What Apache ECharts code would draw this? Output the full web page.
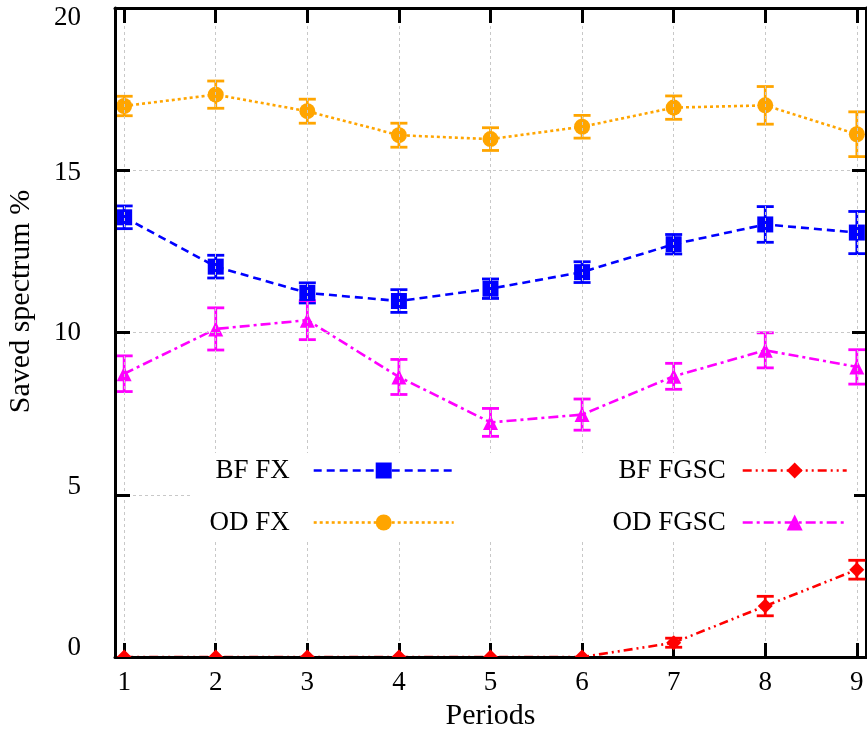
<!DOCTYPE html>
<html>
<head>
<meta charset="utf-8">
<script src="https://cdn.jsdelivr.net/npm/echarts@6/dist/echarts.min.js"></script>
<style>
  html, body { margin: 0; padding: 0; background: #fff; }
  #chart { width: 867px; height: 731px; }
</style>
</head>
<body>
<div id="chart"></div>
<script>
// Periods on the x axis
const periods = [1, 2, 3, 4, 5, 6, 7, 8, 9];
const yTicks = [0, 5, 10, 15, 20];

// Saved spectrum (%) per period, with error bar half-widths
const bfFx      = [13.55, 12.03, 11.22, 10.97, 11.35, 11.86, 12.72, 13.33, 13.08];
const bfFxErr   = [0.35, 0.35, 0.31, 0.35, 0.30, 0.32, 0.30, 0.55, 0.65];
const odFx      = [16.98, 17.33, 16.82, 16.08, 15.96, 16.34, 16.93, 17.00, 16.11];
const odFxErr   = [0.30, 0.42, 0.37, 0.37, 0.35, 0.35, 0.36, 0.58, 0.69];
const bfFgsc    = [0, 0, 0, 0, 0, 0, 0.44, 1.57, 2.69];
const bfFgscErr = [0, 0, 0, 0, 0, 0, 0.14, 0.30, 0.29];
const odFgsc    = [8.73, 10.11, 10.38, 8.63, 7.23, 7.47, 8.65, 9.45, 8.94];
const odFgscErr = [0.55, 0.65, 0.60, 0.54, 0.43, 0.48, 0.40, 0.54, 0.53];

const FONT = 'Liberation Serif';
const BLUE = '#0000ff', ORANGE = '#ffa500', RED = '#ff0000', MAGENTA = '#ff00ff';
const LW = 2.6;

function points(vals) { return periods.map((p, i) => [p, vals[i]]); }
function withErr(vals, errs) { return periods.map((p, i) => [p, vals[i], errs[i]]); }

// vertical error bar with caps, built from value and half-width
function errorBarShapes(api, color) {
  const x = api.value(0), v = api.value(1), e = api.value(2);
  if (!e) return [];
  const top = api.coord([x, v + e]);
  const bot = api.coord([x, v - e]);
  const cap = 8.5;
  const style = { stroke: color, lineWidth: 2.8 };
  return [
    { type: 'line', shape: { x1: top[0], y1: top[1], x2: bot[0], y2: bot[1] }, style },
    { type: 'line', shape: { x1: top[0] - cap, y1: top[1], x2: top[0] + cap, y2: top[1] }, style },
    { type: 'line', shape: { x1: bot[0] - cap, y1: bot[1], x2: bot[0] + cap, y2: bot[1] }, style }
  ];
}

function errorSeries(name, vals, errs, color, z) {
  return {
    name: name, type: 'custom', z: z, silent: true,
    data: withErr(vals, errs),
    encode: { x: 0, y: 1 },
    renderItem: function (params, api) {
      return { type: 'group', children: errorBarShapes(api, color) };
    }
  };
}

function lineSeries(name, vals, color, symbol, size, dash, z) {
  return {
    name: name, type: 'line', z: z,
    data: points(vals),
    symbol: symbol, symbolSize: size,
    lineStyle: { color: color, width: LW, type: dash },
    itemStyle: { color: color },
    emphasis: { disabled: true }
  };
}

const chart = echarts.init(document.getElementById('chart'), null, { renderer: 'canvas' });

const axisLineStyle = { color: '#000', width: 3 };
const gridLineStyle = { color: '#c8c8c8', width: 1, type: [3, 3] };

const legendText = { fontFamily: FONT, fontSize: 27, color: '#000', lineHeight: 20 };

// y tick labels sit slightly off their ticks, spreading a little less than the ticks do
const yLabelRich = {
  y0:  { padding: [0, 0, 18, 0] },
  y5:  { padding: [0, 0, 16, 0] },
  y10: { padding: [0, 0, 0, 0] },
  y15: { padding: [6, 0, 0, 0] },
  y20: { padding: [20, 0, 0, 0] }
};

chart.setOption({
  animation: false,
  backgroundColor: '#fff',
  grid: { left: 115, right: 1, top: 8, bottom: 74, outerBoundsMode: 'none' },
  xAxis: [
    {
      type: 'value', min: 0.9, max: 9.1, position: 'bottom', z: 3,
      name: 'Periods', nameLocation: 'middle', nameGap: 40,
      nameTextStyle: { fontFamily: FONT, fontSize: 30, color: '#000' },
      axisLine: { show: true, onZero: false, lineStyle: axisLineStyle },
      axisTick: { show: true, inside: true, length: 14, customValues: periods, lineStyle: axisLineStyle },
      axisLabel: { show: true, customValues: periods, fontFamily: FONT, fontSize: 27, color: '#000', margin: 12 },
      splitLine: { show: true, lineStyle: gridLineStyle }
    },
    {
      type: 'value', min: 0.9, max: 9.1, position: 'top', z: 3,
      axisLine: { show: true, onZero: false, lineStyle: axisLineStyle },
      axisTick: { show: true, inside: true, length: 15, customValues: periods, lineStyle: axisLineStyle },
      axisLabel: { show: false },
      splitLine: { show: false }
    }
  ],
  yAxis: [
    {
      type: 'value', min: 0, max: 20, interval: 5, position: 'left', z: 3,
      name: 'Saved spectrum %', nameLocation: 'middle', nameGap: 79, nameRotate: 90,
      nameTextStyle: { fontFamily: FONT, fontSize: 30, color: '#000', padding: [0, 0, 0, 62] },
      axisLine: { show: true, onZero: false, lineStyle: axisLineStyle },
      axisTick: { show: true, inside: true, length: 15, lineStyle: axisLineStyle },
      axisLabel: {
        show: true, fontFamily: FONT, fontSize: 27, color: '#000', margin: 34,
        customValues: yTicks,
        formatter: function (v) { return '{y' + v + '|' + v + '}'; },
        rich: yLabelRich
      },
      splitLine: { show: true, lineStyle: gridLineStyle }
    },
    {
      type: 'value', min: 0, max: 20, interval: 5, position: 'right', z: 3,
      axisLine: { show: true, onZero: false, lineStyle: axisLineStyle },
      axisTick: { show: true, inside: true, length: 14, lineStyle: axisLineStyle },
      axisLabel: { show: false },
      splitLine: { show: false }
    }
  ],
  legend: [
    {
      data: ['BF FX', 'OD FX'], orient: 'vertical', align: 'right',
      right: 267, top: 453, itemWidth: 140, itemHeight: 20, itemGap: 25,
      padding: [4, 145, 5, 17], backgroundColor: '#fff',
      selectedMode: false,
      textStyle: Object.assign({ padding: [0, 19, 0, 0] }, legendText),
      lineStyle: { width: LW }
    },
    {
      data: ['BF FGSC', 'OD FGSC'], orient: 'vertical', align: 'right',
      right: 13, top: 453, itemWidth: 104, itemHeight: 20, itemGap: 25,
      padding: [4, 6, 5, 15], backgroundColor: '#fff',
      selectedMode: false,
      textStyle: Object.assign({ padding: [0, 12, 0, 0] }, legendText),
      lineStyle: { width: LW }
    }
  ],
  series: [
    lineSeries('BF FX', bfFx, BLUE, 'rect', 16, [8, 5], 2),
    errorSeries('BF FX err', bfFx, bfFxErr, BLUE, 2),
    Object.assign(lineSeries('BF FGSC', bfFgsc, RED, 'diamond', 15, [9, 4, 2, 4, 2, 4], 2), { showSymbol: false }),
    {
      // diamonds and error bars, clipped to the plot frame
      name: 'BF FGSC marks', type: 'custom', z: 4, silent: true, clip: true,
      data: withErr(bfFgsc, bfFgscErr),
      encode: { x: 0, y: 1 },
      renderItem: function (params, api) {
        const c = api.coord([api.value(0), api.value(1)]);
        const h = 7.5;
        const kids = errorBarShapes(api, RED);
        kids.push({
          type: 'polygon',
          shape: { points: [[c[0], c[1] - h], [c[0] + h, c[1]], [c[0], c[1] + h], [c[0] - h, c[1]]] },
          style: { fill: RED }
        });
        return { type: 'group', children: kids };
      }
    },
    lineSeries('OD FX', odFx, ORANGE, 'circle', 16, [3, 3], 2),
    errorSeries('OD FX err', odFx, odFxErr, ORANGE, 2),
    lineSeries('OD FGSC', odFgsc, MAGENTA, 'triangle', 15, [10, 4, 3, 4], 2),
    errorSeries('OD FGSC err', odFgsc, odFgscErr, MAGENTA, 2)
  ]
});
</script>
</body>
</html>
